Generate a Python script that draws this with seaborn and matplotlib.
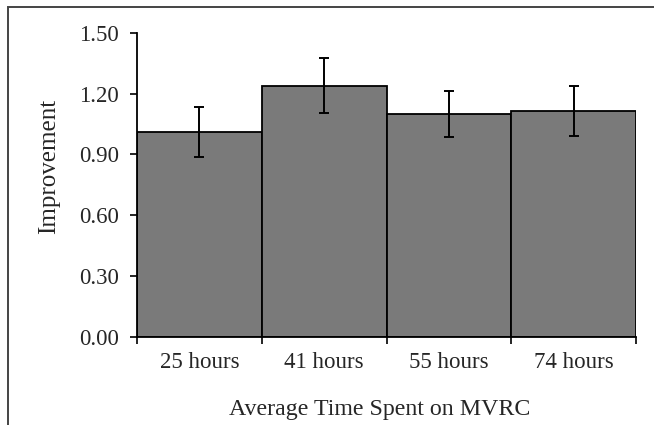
import matplotlib
matplotlib.use("Agg")
import matplotlib.pyplot as plt
import seaborn as sns
import pandas as pd
from matplotlib.patches import Rectangle

categories = ["25 hours", "41 hours", "55 hours", "74 hours"]
improvement = [1.01, 1.24, 1.10, 1.115]
errors = [0.125, 0.135, 0.115, 0.125]
yticks = [0.00, 0.30, 0.60, 0.90, 1.20, 1.50]

df = pd.DataFrame({"time": categories, "improvement": improvement})

sns.set_style("ticks")
plt.rcParams["font.family"] = ["Liberation Serif", "DejaVu Serif"]

fig = plt.figure(figsize=(6.54, 4.25), dpi=100)
ax = fig.add_axes([0.2095, 0.2078, 0.763, 0.7146])

sns.barplot(data=df, x="time", y="improvement", color="#7a7a7a", saturation=1,
            width=1.0, edgecolor="black", linewidth=1.3, errorbar=None, ax=ax)
ax.errorbar(range(len(categories)), improvement, yerr=errors, fmt="none",
            ecolor="black", elinewidth=1.4, capsize=3.5, capthick=1.4)

ax.set_ylim(0, 1.5)
ax.set_xlim(-0.5, len(categories) - 0.5)
ax.set_yticks(yticks)
ax.set_yticklabels([f"{v:.2f}" for v in yticks])

# category boundary ticks below, labels centered under bars
ax.set_xticks([i - 0.5 for i in range(len(categories) + 1)])
ax.set_xticklabels([])
ax.set_xticks(range(len(categories)), minor=True)
ax.set_xticklabels(categories, minor=True)
ax.tick_params(axis="x", which="major", length=5, width=1.2, color="black")
ax.tick_params(axis="x", which="minor", length=0, pad=11, labelsize=16.5)
ax.tick_params(axis="y", length=5, width=1.2, color="black", labelsize=16.5, pad=8)

for s in ["top", "right"]:
    ax.spines[s].set_visible(False)
for s in ["left", "bottom"]:
    ax.spines[s].set_linewidth(1.3)
    ax.spines[s].set_color("black")

ax.set_xlabel("Average Time Spent on MVRC", fontsize=17.2)
ax.set_ylabel("Improvement", fontsize=18)
ax.xaxis.set_label_coords(0.486, -0.205)
ax.yaxis.set_label_coords(-0.155, 0.56)

# outer frame, cropped at the right and bottom edges
fig.patches.append(Rectangle((8 / 654, -0.1), 1.2, 1 - 7 / 425 + 0.1,
                             transform=fig.transFigure, fill=False,
                             edgecolor="#444444", linewidth=1.4))

fig.savefig("out.png", dpi=100)
